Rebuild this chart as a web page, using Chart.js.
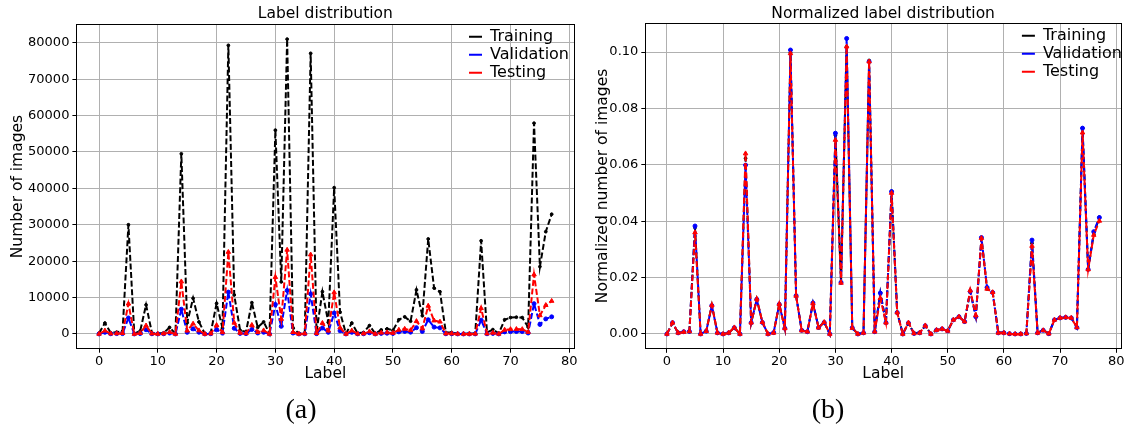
<!DOCTYPE html>
<html>
<head>
<meta charset="utf-8">
<script src="https://cdn.jsdelivr.net/npm/chart.js@4.4.1/dist/chart.umd.min.js"></script>
<style>
  html, body { margin: 0; padding: 0; background: #fff; width: 1126px; height: 432px; overflow: hidden; }
  canvas { position: absolute; top: 0; }
  #left { left: 0; }
  #right { left: 590px; }
  .cap { position: absolute; top: 393px; font-family: "Liberation Serif", serif; font-size: 28px; color: #000; transform: translateX(-50%); }
</style>
</head>
<body>
<canvas id="left" width="590" height="432"></canvas>
<canvas id="right" width="536" height="432"></canvas>
<div class="cap" style="left:301px">(a)</div>
<div class="cap" style="left:828px">(b)</div>
<script>
// label ids 0..77
const labels = [0,1,2,3,4,5,6,7,8,9,10,11,12,13,14,15,16,17,18,19,20,21,22,23,24,25,26,27,28,29,
  30,31,32,33,34,35,36,37,38,39,40,41,42,43,44,45,46,47,48,49,50,51,52,53,54,55,56,57,58,59,
  60,61,62,63,64,65,66,67,68,69,70,71,72,73,74,75,76,77];

// (a) number of images per label
const trainCount = [200,3000,300,500,700,30000,100,800,8000,300,100,300,1800,100,49500,3100,9800,3300,100,300,
  8400,1600,79300,10700,1000,600,8600,1800,3300,100,56000,14300,81000,1700,100,300,77100,600,11600,3200,
  40200,6000,100,3000,200,400,2300,100,1100,1400,1000,3900,4700,3500,12100,5000,26100,12600,11600,400,
  400,100,50,100,150,25600,400,1200,200,3900,4500,4600,4500,1900,57900,18500,28100,32900];
const valCount = [0,450,50,100,100,4400,0,100,1150,50,0,50,250,0,6800,450,1400,470,0,60,
  1200,230,11500,1550,150,90,1250,260,470,0,8100,2100,11950,250,0,40,11000,90,1650,450,
  5750,870,0,450,20,50,330,0,160,200,130,570,700,500,1720,700,3900,1880,1680,50,
  50,10,0,0,20,3800,50,150,10,570,650,670,650,260,8320,2610,4140,4710];
const testCount = [0,900,100,150,200,8300,0,230,2300,100,0,100,520,0,14400,900,2800,950,0,100,
  2400,450,22500,3050,280,180,2450,500,950,0,15600,4100,23100,480,0,100,21800,180,3000,900,
  11400,1720,0,900,40,100,680,0,320,400,260,1130,1380,1000,3500,1500,7700,3660,3350,100,
  100,20,0,0,40,7050,100,300,20,1130,1290,1330,1290,520,16300,5100,7900,9050];

// (b) normalized number of images per label
const trainNorm = [0,0.0039,0.0004,0.0007,0.0009,0.0377,0,0.0010,0.0102,0.0004,0,0.0004,0.0023,0,0.0623,0.0039,0.0124,0.0041,0,0.0004,
  0.0107,0.0020,0.0998,0.0135,0.0013,0.0008,0.0109,0.0023,0.0042,0,0.0705,0.0182,0.1019,0.0022,0,0.0004,0.0970,0.0008,0.0147,0.0040,
  0.0506,0.0076,0,0.0039,0.0002,0.0005,0.0029,0,0.0014,0.0017,0.0012,0.0050,0.0061,0.0044,0.0152,0.0063,0.0340,0.0160,0.0148,0.0005,
  0.0005,0.0001,0,0.0001,0.0002,0.0322,0.0005,0.0014,0.0002,0.0050,0.0056,0.0058,0.0057,0.0024,0.0729,0.0229,0.0354,0.0414];
const valNorm = [0,0.0040,0.0004,0.0008,0.0009,0.0383,0,0.0010,0.0101,0.0004,0,0.0004,0.0022,0,0.0599,0.0040,0.0123,0.0041,0,0.0005,
  0.0105,0.0020,0.1007,0.0136,0.0013,0.0008,0.0110,0.0023,0.0041,0,0.0712,0.0183,0.1048,0.0022,0,0.0004,0.0966,0.0008,0.0145,0.0040,
  0.0505,0.0076,0,0.0039,0.0002,0.0004,0.0029,0,0.0014,0.0018,0.0011,0.0050,0.0061,0.0044,0.0151,0.0061,0.0342,0.0165,0.0147,0.0004,
  0.0004,0.0001,0,0,0.0002,0.0333,0.0004,0.0013,0.0001,0.0050,0.0057,0.0059,0.0057,0.0023,0.0730,0.0229,0.0363,0.0413];
const testNorm = [0,0.0040,0.0004,0.0007,0.0009,0.0360,0,0.0010,0.0102,0.0004,0,0.0004,0.0023,0,0.0640,0.0040,0.0124,0.0042,0,0.0004,
  0.0106,0.0020,0.0995,0.0135,0.0012,0.0008,0.0108,0.0022,0.0042,0,0.0688,0.0181,0.1019,0.0021,0,0.0004,0.0966,0.0008,0.0127,0.0040,
  0.0500,0.0076,0,0.0040,0.0002,0.0004,0.0030,0,0.0014,0.0018,0.0011,0.0050,0.0061,0.0044,0.0155,0.0066,0.0340,0.0160,0.0148,0.0004,
  0.0004,0.0001,0,0,0.0002,0.0312,0.0004,0.0013,0.0001,0.0050,0.0057,0.0059,0.0057,0.0023,0.0714,0.0229,0.0351,0.0401];

const xTicks = [0,10,20,30,40,50,60,70,80];
const countTicks = [0,10000,20000,30000,40000,50000,60000,70000,80000];
const normTicks = [0,0.02,0.04,0.06,0.08,0.10];

Chart.defaults.font.family = "'DejaVu Sans', sans-serif";
Chart.defaults.color = '#000';

const tickFont = { size: 13 };
const axisFont = { size: 15.5 };

function points(values) {
  return labels.map((x, i) => ({ x: x, y: values[i] }));
}

function series(name, values, color, marker, radius, order) {
  return {
    label: name,
    data: points(values),
    borderColor: color,
    backgroundColor: color,
    borderWidth: 2,
    borderDash: [6, 2.6],
    pointStyle: marker,
    pointRadius: radius,
    pointBorderWidth: 1,
    tension: 0,
    order: order
  };
}

// legend sits inside the plot, top right (like matplotlib loc='upper right')
const legendSpot = {
  id: 'legendSpot',
  afterLayout(chart, args, opts) {
    const lg = chart.legend;
    if (!lg) return;
    lg.left = chart.chartArea.right - opts.fromRight;
    lg.top = chart.chartArea.top + opts.fromTop;
  }
};

function makeChart(id, cfg) {
  const ctx = document.getElementById(id).getContext('2d');
  return new Chart(ctx, {
    type: 'line',
    data: {
      datasets: [
        series('Training', cfg.train, '#000000', 'circle', 1.4, 3),
        series('Validation', cfg.val, '#0000ff', 'circle', 2, 2),
        series('Testing', cfg.test, '#ff0000', 'triangle', 2.6, 1)
      ]
    },
    options: {
      responsive: false,
      animation: false,
      devicePixelRatio: 1,
      layout: { padding: { left: 0, right: cfg.padRight, top: 0, bottom: 0 } },
      plugins: {
        title: { display: false },
        tooltip: { enabled: false },
        legend: {
          position: 'chartArea',
          align: 'start',
          labels: {
            usePointStyle: true,
            pointStyle: 'line',
            pointStyleWidth: 13,
            padding: 2,
            color: '#000',
            font: { size: 16 },
            sort: (a, b) => a.datasetIndex - b.datasetIndex,
            generateLabels: (chart) => Chart.defaults.plugins.legend.labels.generateLabels(chart)
              .map((item) => Object.assign(item, { lineWidth: 2 }))
          }
        },
        legendSpot: cfg.legend
      },
      scales: {
        x: {
          type: 'linear',
          min: -3.85,
          max: 80.85,
          afterBuildTicks: (s) => { s.ticks = xTicks.map((v) => ({ value: v })); },
          afterFit: (s) => { s.height = 432 - cfg.bottom; s.paddingLeft = 0; s.paddingRight = 0; },
          ticks: { font: tickFont, padding: 1, maxRotation: 0, callback: (v) => String(v) },
          grid: { color: '#b0b0b0', lineWidth: 1, tickColor: '#000', tickLength: 4 },
          border: { color: '#000', width: 1 },
          title: { display: true, text: 'Label', font: axisFont, padding: { top: 0, bottom: 49 } }
        },
        y: {
          type: 'linear',
          min: cfg.yMin,
          max: cfg.yMax,
          afterBuildTicks: (s) => { s.ticks = cfg.yTicks.map((v) => ({ value: v })); },
          afterFit: (s) => { s.width = cfg.left; },
          ticks: { font: tickFont, padding: 3, callback: cfg.yFormat },
          grid: { color: '#b0b0b0', lineWidth: 1, tickColor: '#000', tickLength: 4 },
          border: { color: '#000', width: 1 },
          title: { display: true, text: cfg.yTitle, font: axisFont, padding: { top: cfg.yTitlePad, bottom: 0 } }
        },
        xTop: {
          type: 'linear',
          axis: 'x',
          position: 'top',
          min: -3.85,
          max: 80.85,
          afterFit: (s) => { s.height = cfg.top; },
          ticks: { display: false },
          grid: { display: false },
          border: { color: '#000', width: 1 },
          title: { display: true, text: cfg.title, font: axisFont, padding: { top: 5, bottom: 0 } }
        },
        yRight: {
          type: 'linear',
          axis: 'y',
          position: 'right',
          min: cfg.yMin,
          max: cfg.yMax,
          afterFit: (s) => { s.width = 0; },
          ticks: { display: false },
          grid: { display: false },
          border: { color: '#000', width: 1 }
        }
      }
    },
    plugins: [legendSpot]
  });
}

makeChart('left', {
  train: trainCount, val: valCount, test: testCount,
  yMin: -4050, yMax: 85050, yTicks: countTicks,
  yFormat: (v) => String(v),
  yTitle: 'Number of images', yTitlePad: 9,
  title: 'Label distribution',
  left: 76.4, top: 24.4, bottom: 348.7, padRight: 15.7,
  legend: { fromRight: 107.3, fromTop: 2.3 }
});

makeChart('right', {
  train: trainNorm, val: valNorm, test: testNorm,
  yMin: -0.00525, yMax: 0.11025, yTicks: normTicks,
  yFormat: (v) => v.toFixed(2),
  yTitle: 'Normalized number of images', yTitlePad: 4,
  title: 'Normalized label distribution',
  left: 55.3, top: 23.1, bottom: 348.8, padRight: 4.2,
  legend: { fromRight: 101.1, fromTop: 2.6 }
});
</script>
</body>
</html>
